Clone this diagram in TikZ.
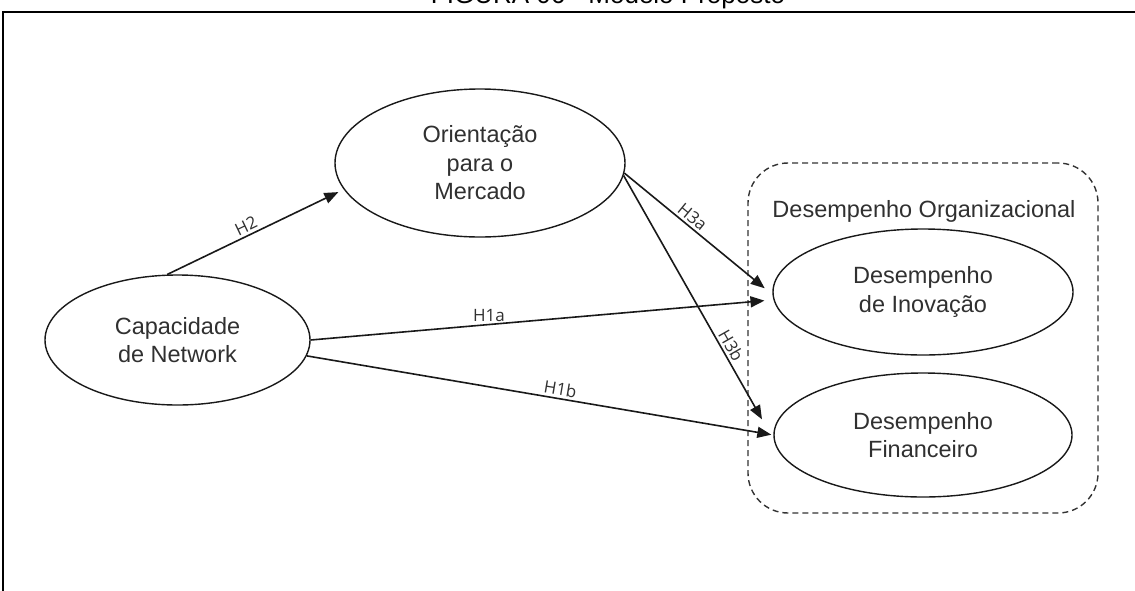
\documentclass[tikz,border=0pt]{standalone}
\usepackage{fontspec}
\setmainfont{Liberation Sans}
\newfontfamily\lblfont{Open Sans}
\usetikzlibrary{shapes.geometric,arrows.meta}
\definecolor{txt}{HTML}{303030}
\begin{document}
\begin{tikzpicture}[x=1pt,y=-1pt,
  ell/.style={draw=black!90, line width=1.4pt, ellipse, inner sep=0pt, align=center,
    text=txt, font=\fontsize{23.5}{28.5}\selectfont},
  conn/.style={draw=black!90, line width=1.6pt, -{Triangle[length=14pt,width=11pt]}},
  lbl/.style={font=\lblfont\fontsize{17}{19}\selectfont, text=txt, inner sep=2.5pt},
  grpbox/.style={draw=black!80, line width=1.4pt, dash pattern=on 6pt off 4pt,
    rounded corners=40pt, inner sep=0pt}]
\useasboundingbox (0,0) rectangle (1135,590);
\clip (0,0) rectangle (1135,590);
% title and frame
\node[anchor=base, inner sep=0pt, font=\fontsize{26}{30}\selectfont] (title) at (608,3.5) {FIGURA 06 - Modelo Proposto};
\coordinate (fbl) at (3,600);
\coordinate (ftl) at (3,12);
\coordinate (ftr) at (1140,12);
\draw[line width=2pt] (fbl) -- (ftl) -- (ftr);
% group box
\node[grpbox, minimum width=350pt, minimum height=350pt] (grp) at (923,338) {};
\node[anchor=base, inner sep=0pt, text=txt, font=\fontsize{23.5}{28.5}\selectfont] (grplbl) at (924,217) {Desempenho Organizacional};
% ellipses
\node[ell, minimum width=290pt, minimum height=148pt] (om) at (480,163) {Orientação\\para o\\Mercado};
\node[ell, minimum width=265pt, minimum height=130pt] (cn) at (177.5,340) {Capacidade\\de Network};
\node[ell, minimum width=300pt, minimum height=126pt] (inov) at (923,292) {Desempenho\\de Inovação};
\node[ell, minimum width=298pt, minimum height=124pt] (fin) at (923,435) {Desempenho\\Financeiro};
% connectors
\draw[conn, shorten >=6pt] (cn.99) -- node[lbl, pos=0.47, sloped, above] {H2} (om.191);
\draw[conn, shorten >=9pt] (cn.0) -- node[lbl, pos=0.385, above] {H1a} (inov.183);
\draw[conn, shorten >=2pt] (cn.-7) -- node[lbl, pos=0.54, sloped, above] {H1b} (fin.180);
\draw[conn, shorten >=10pt] (om.-4) -- node[lbl, pos=0.42, sloped, above] {H3a} (inov.181);
\draw[conn, shorten >=24pt] (om.-5) -- node[lbl, pos=0.66, sloped, above] {H3b} (fin.182);
\end{tikzpicture}
\end{document}
